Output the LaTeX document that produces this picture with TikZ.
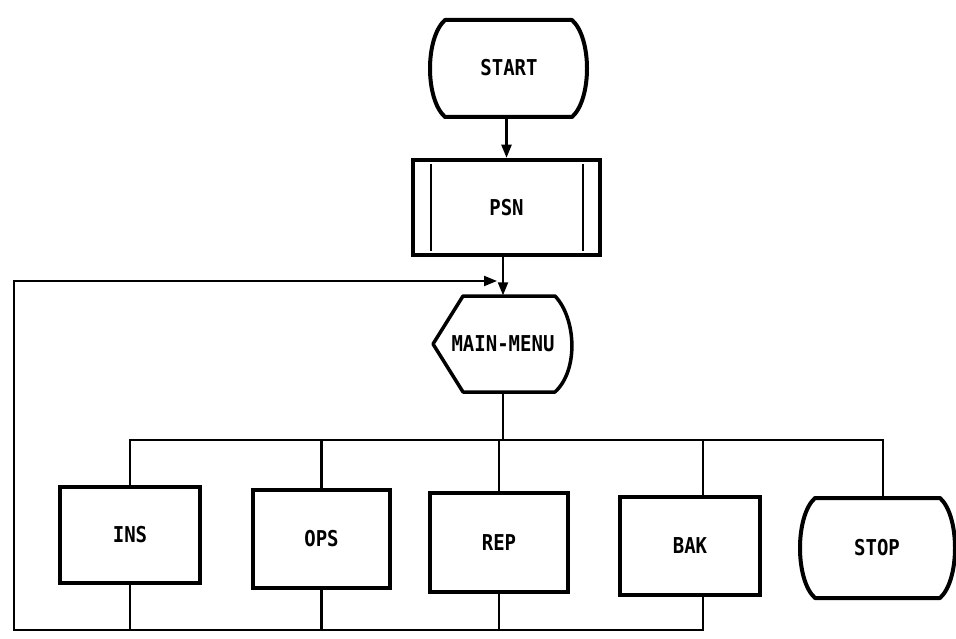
\documentclass[tikz,border=0pt]{standalone}
\usepackage{fontspec}
\setmonofont{DejaVu Sans Mono}
\usetikzlibrary{arrows.meta,calc}
\newcommand{\tallmono}[1]{\scalebox{1}[1.15]{#1}}
\begin{document}
\begin{tikzpicture}[x=1pt,y=-1pt,
  lbl/.style={font=\ttfamily\bfseries\fontsize{19}{19}\selectfont, inner sep=0pt},
  procbox/.style={lbl, draw, line width=4.5pt},
  outline/.style={line width=4pt, line join=round},
  conn/.style={line width=2.2pt},
  arr/.style={conn, -{Triangle[length=13pt,width=10pt]}},
  inner/.style={line width=2pt}]
\useasboundingbox (0,0) rectangle (956,639);
% nodes
\node[lbl, minimum width=158pt, minimum height=97pt] (start) at (509,68) {\tallmono{START}};
\node[procbox, minimum width=187pt, minimum height=95pt] (psn) at (506.5,207.5) {\tallmono{PSN}};
\node[lbl, minimum width=139pt, minimum height=97pt] (main) at (503,344) {\tallmono{MAIN-MENU}};
\node[procbox, minimum width=140pt, minimum height=96pt] (ins) at (130,535) {\tallmono{INS}};
\node[procbox, minimum width=137pt, minimum height=98pt] (ops) at (321.5,539) {\tallmono{OPS}};
\node[procbox, minimum width=138pt, minimum height=99pt] (rep) at (499,542.5) {\tallmono{REP}};
\node[procbox, minimum width=140pt, minimum height=98pt] (bak) at (690,546) {\tallmono{BAK}};
\node[lbl, minimum width=155pt, minimum height=100pt] (stop) at (877,548) {\tallmono{STOP}};
% outlines of special shapes
\draw[outline] (445,20) -- (572,20) .. controls (592,38) and (592,99) .. (572,117)
  -- (445,117) .. controls (425,99) and (425,38) .. (445,20) -- cycle;
\draw[inner] (431,164) -- (431,251);
\draw[inner] (583,164) -- (583,251);
\draw[outline, line width=3.5pt] (463,296) -- (555,296) .. controls (576,318) and (579,370) .. (555,392)
  -- (463,392) -- (433,344) -- cycle;
\draw[outline] (815,498) -- (940,498) .. controls (960,516) and (960,580) .. (940,598)
  -- (815,598) .. controls (795,580) and (795,516) .. (815,498) -- cycle;
% coordinates
\coordinate (busy) at (0,440);
\coordinate (boty) at (0,630);
\coordinate (bakdrop) at (703,0);
\coordinate (stopdrop) at (883,0);
\coordinate (loopin) at (497,281);
% connectors
\draw[arr] (psn.north |- start.south) -- (psn.north);
\draw[arr] (main.north |- psn.south) -- (main.north);
\draw[conn] (main.south) -- (main.south |- busy);
\draw[conn] (ins.north) -- (ins.north |- busy) -- (stopdrop |- busy) -- (stopdrop |- stop.north);
\draw[conn] (ops.north) -- (ops.north |- busy);
\draw[conn] (rep.north) -- (rep.north |- busy);
\draw[conn] (bakdrop |- bak.north) -- (bakdrop |- busy);
\draw[conn] (ins.south) -- (ins.south |- boty);
\draw[conn] (ops.south) -- (ops.south |- boty);
\draw[conn] (rep.south) -- (rep.south |- boty);
\draw[arr] (bakdrop |- bak.south) -- (bakdrop |- boty) -- (14,630) -- (14,281) -- (loopin);
\end{tikzpicture}
\end{document}
